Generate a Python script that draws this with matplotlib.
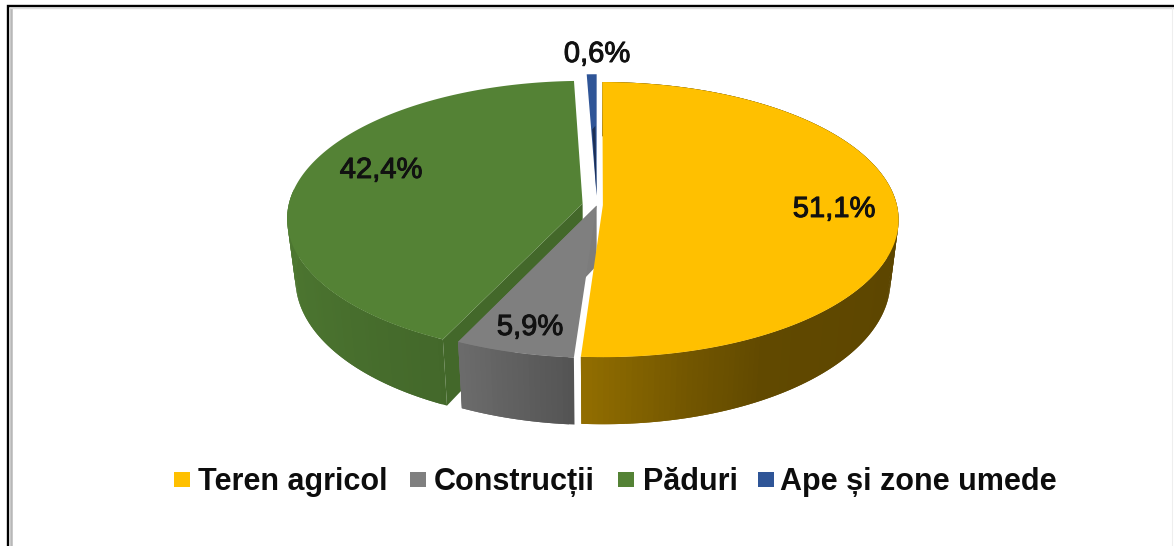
import numpy as np
import matplotlib
matplotlib.use("Agg")
import matplotlib.pyplot as plt
import matplotlib.patheffects as pe

# --- data ---
categories = ["Teren agricol", "Construcții", "Păduri", "Ape și zone umede"]
values = [51.1, 5.9, 42.4, 0.6]
value_labels = ["51,1%", "5,9%", "42,4%", "0,6%"]

# --- style ---
colors = ["#FFC000", "#7F7F7F", "#548235", "#2F5597"]
explode = [0.02, 0.005, 0.05, 0.07]

cx, cy = 597, 205
w, h = 294, 136
k = 0.1055
depth = 60

plt.rcParams["font.family"] = ["Liberation Sans", "DejaVu Sans"]
fig = plt.figure(figsize=(11.74, 5.46), dpi=100)
ax = fig.add_axes([0, 0, 1, 1])
ax.set_xlim(0, 1174)
ax.set_ylim(546, 0)
ax.axis("off")


def project(theta, r, z, e_theta, e):
    # theta clockwise from top, ground plane seen in perspective
    X = r * np.sin(np.radians(theta)) + e * np.sin(np.radians(e_theta))
    Y = -r * np.cos(np.radians(theta)) - e * np.cos(np.radians(e_theta))
    s = 1 / (1 - k * Y)
    return cx + w * X * s * (1 - 0.027 * z), cy + h * Y * s + depth * z * s


def shaded(color, theta):
    rgb = np.array(matplotlib.colors.to_rgb(color))
    if color == colors[0]:
        f = np.interp(theta, [0, 100, 150, 165, 185], [0.36, 0.36, 0.38, 0.45, 0.58])
    elif color == colors[1]:
        f = np.interp(theta, [184, 205], [0.66, 0.85])
    else:
        f = np.interp(theta, [205, 240, 275], [0.80, 0.88, 0.93])
    return rgb * f


# slice angles come from the values
shares = np.array(values) / sum(values) * 360
starts = np.concatenate([[0], np.cumsum(shares)[:-1]])
ends = starts + shares
mids = (starts + ends) / 2

# back to front: blue, green, gray, yellow
for i in [3, 2, 1, 0]:
    a0, a1, mid, e, col = starts[i], ends[i], mids[i], explode[i], colors[i]
    base = 30 - 10 * i
    # radial wall facing the viewer
    if i in (1, 2):
        edge = a0 if i == 2 else a1
        wall_col = shaded(col, edge) if i == 2 else np.array(matplotlib.colors.to_rgb(col)) * 0.98
        pts = [project(edge, 0, 0, mid, e), project(edge, 1, 0, mid, e),
               project(edge, 1, 1, mid, e), project(edge, 0, 1, mid, e)]
        ax.fill(*zip(*pts), color=wall_col, lw=0, zorder=base - 1)
    # outer wall, overlapping quads so no seams show
    steps = np.arange(a0, a1, 1.0)
    for t0 in steps:
        t1 = min(t0 + 2.0, a1)
        if 90 < t0 < 275 or i == 0:
            pts = [project(t0, 1, 0, mid, e), project(t1, 1, 0, mid, e),
                   project(t1, 1, 1, mid, e), project(t0, 1, 1, mid, e)]
            ax.fill(*zip(*pts), color=shaded(col, t0 + 0.5), lw=0, zorder=base)
    # top face
    angles = np.linspace(a0, a1, 200)
    top = [project(0, 0, 0, mid, e)] + [project(t, 1, 0, mid, e) for t in angles]
    ax.fill(*zip(*top), color=col, lw=0, zorder=base + 2)

# dark inner part of the thin blue slice
a0, a1, mid, e = starts[3], ends[3], mids[3], explode[3]
pts = [project(a0 + 0.4, 0.52, 0, mid, e), project(a1 - 0.5, 0.55, 0, mid, e), project(a1, 0, 0, mid, e)]
ax.fill(*zip(*pts), color="#1B2F55", lw=0, zorder=3)

# data labels
label_pos = [(834, 209), (530, 327), (381, 170), (597, 54)]
for text, (x, y) in zip(value_labels, label_pos):
    ax.text(x, y, text, fontsize=21, color="#111111", ha="center", va="center", zorder=40,
            path_effects=[pe.withStroke(linewidth=0.7, foreground="#111111")])

# legend
swatch_x = [174, 410, 618, 758]
text_x = [198, 434, 643, 780]
for name, col, sx, tx in zip(categories, colors, swatch_x, text_x):
    ax.add_patch(plt.Rectangle((sx, 472), 15.5, 14.5, color=col, lw=0, zorder=40))
    ax.text(tx, 490, name, fontsize=22, fontweight="bold", color="#0d0d0d",
            ha="left", va="baseline", zorder=40)

# frame of the screenshot
ax.plot([8.2, 8.2, 1174], [546, 6.2, 6.2], color="black", lw=1.7, solid_joinstyle="miter", zorder=50)
ax.plot([11, 11], [546, 8.5], color="#b8b8b8", lw=1.8, zorder=49)
ax.plot([11, 1174], [8, 8], color="#dddddd", lw=1, zorder=49)
ax.plot([1172, 1172], [8, 546], color="#eeeeee", lw=0.8, zorder=49)

fig.savefig("out.png", dpi=100)
